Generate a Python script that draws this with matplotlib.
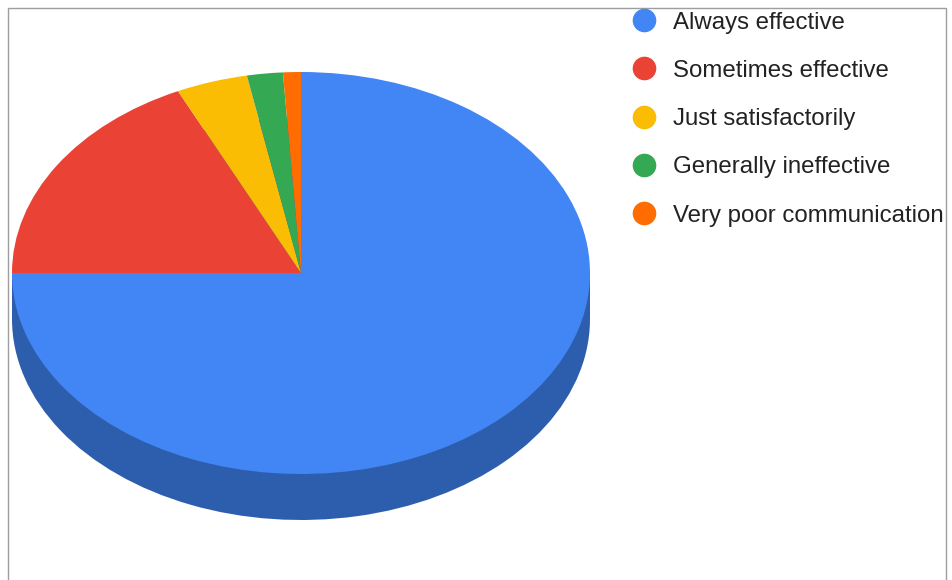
import matplotlib
matplotlib.use("Agg")
import matplotlib.pyplot as plt
from matplotlib.patches import Rectangle
from matplotlib.lines import Line2D

categories = ["Always effective", "Sometimes effective", "Just satisfactorily",
              "Generally ineffective", "Very poor communication"]
values = [75, 18, 4, 2, 1]
colors = ["#4285F4", "#EA4335", "#FBBC04", "#34A853", "#FF6D01"]
side_color = "#2D5EAD"

W, H = 953, 580
fig = plt.figure(figsize=(W / 100, H / 100), dpi=100)
fig.patch.set_facecolor("white")

# pie geometry in pixels
cx, cy = 301, 273
rx, ry = 289, 201
depth = 46
d = depth / ry

ax = fig.add_axes([(cx - rx) / W, (H - (cy + ry + depth)) / H,
                   2 * rx / W, (2 * ry + depth) / H])
ax.set_axis_off()

# bottom disc (side base)
ax.pie(values, colors=[side_color] * len(values), startangle=90,
       counterclock=False, center=(0, -d), radius=1,
       wedgeprops=dict(linewidth=0))
ax.add_patch(Rectangle((-1, -d), 2, d, facecolor=side_color, edgecolor="none"))
# top disc
ax.pie(values, colors=colors, startangle=90, counterclock=False,
       center=(0, 0), radius=1,
       wedgeprops=dict(linewidth=0))
ax.set_aspect("auto")
ax.set_xlim(-1, 1)
ax.set_ylim(-1 - d, 1)

# border
fig.add_artist(Rectangle((8.5 / W, -0.1), (946 - 8.5) / W, 1.1 - 7.5 / H,
                         transform=fig.transFigure, facecolor="none",
                         edgecolor="#9E9E9E", linewidth=1.0))

# legend
lx_marker, lx_text = 644, 673
y0, dy = 20, 48.3
for i, (lab, col) in enumerate(zip(categories, colors)):
    y = y0 + i * dy
    fig.add_artist(Line2D([lx_marker / W], [1 - y / H], marker="o",
                          markersize=17, color=col, markeredgewidth=0,
                          linestyle="none", transform=fig.transFigure))
    fig.text(lx_text / W, 1 - (y + 8.5) / H, lab, fontsize=17.3,
             color="#222222", family="Liberation Sans",
             va="baseline", ha="left")

fig.savefig("out.png", dpi=100)
